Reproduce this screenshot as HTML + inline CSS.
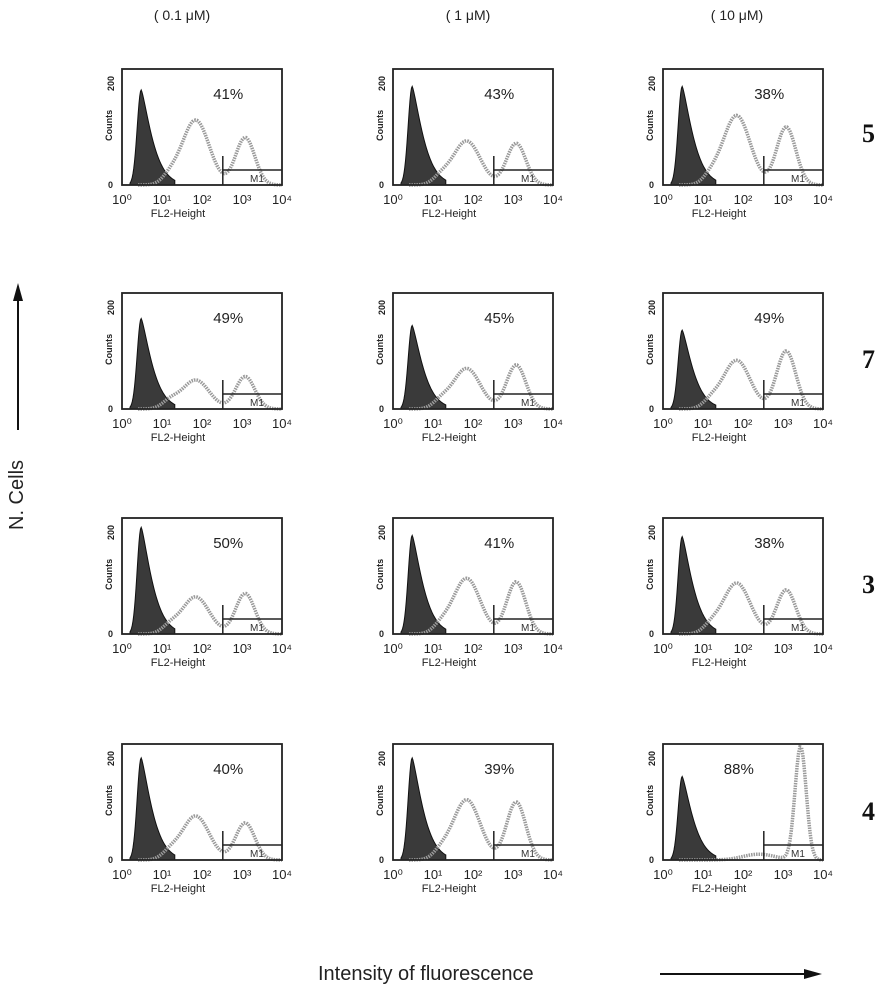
<!DOCTYPE html>
<html><head><meta charset="utf-8"><style>
body{margin:0;background:#fff;width:892px;height:1000px;overflow:hidden;font-family:"Liberation Sans",sans-serif}
svg{position:absolute;left:0;top:0}
</style></head><body>
<svg id="s" width="892" height="1000" xmlns="http://www.w3.org/2000/svg">
<text x="182" y="20" font-size="14" text-anchor="middle" fill="#222">( 0.1 μM)</text>
<text x="468" y="20" font-size="14" text-anchor="middle" fill="#222">( 1 μM)</text>
<text x="737" y="20" font-size="14" text-anchor="middle" fill="#222">( 10 μM)</text>
<g font-family="Liberation Serif" font-weight="bold" font-size="26" fill="#111">
<text x="862" y="142">5</text><text x="862" y="368">7</text><text x="862" y="593">3</text><text x="862" y="820">4</text></g>
<text transform="translate(23,530) rotate(-90)" font-size="20" fill="#222">N. Cells</text>
<line x1="18" y1="430" x2="18" y2="300" stroke="#111" stroke-width="2"/>
<polygon points="18,283 13,301 23,301" fill="#111"/>
<text x="318" y="980" font-size="20" fill="#222">Intensity of fluorescence</text>
<line x1="660" y1="974" x2="805" y2="974" stroke="#111" stroke-width="2"/>
<polygon points="822,974 804,969 804,979" fill="#111"/>
</svg>
<script>
const s=document.getElementById('s');
const cols=[122,393,663],rows=[69,293,518,744],W=160,H=116;
const pct=[["41%","43%","38%"],["49%","45%","49%"],["50%","41%","38%"],["40%","39%","88%"]];
const pk=[[[.82,.56,.41],[.85,.38,.36],[.85,.6,.5]],[[.78,.25,.28],[.72,.35,.38],[.68,.42,.5]],[[.92,.32,.35],[.85,.48,.45],[.84,.44,.38]],[[.88,.38,.32],[.88,.52,.5],[.72,.04,.98]]];
let h='';
function g(x,m,sd){return Math.exp(-((x-m)*(x-m))/(2*sd*sd));}
for(let r=0;r<4;r++)for(let c=0;c<3;c++){
 const X=cols[c],Y=rows[r],p=pk[r][c];
 let d=`M${X+8},${Y+H}`;
 for(let i=0;i<=60;i++){let t=0.05+i/60*0.28;let v=t<0.12?g(t,0.12,0.025):Math.exp(-Math.pow((t-0.12)/0.09,1.3));d+=` L${X+t*W},${Y+H-v*p[0]*H}`;}
 d+=` L${X+0.33*W},${Y+H}Z`;
 h+=`<path d="${d}" fill="#3a3a3a" stroke="#111"/>`;
 let e='';
 for(let i=0;i<=100;i++){let t=0.1+i/100*0.9;let v=p[1]*g(t,0.46,0.085)+p[2]*g(t,0.77,0.06)+0.06*g(t,0.3,0.05);if(p[2]>0.9)v=p[2]*g(t,0.86,0.035)+0.05*g(t,0.6,0.1);e+=(i?' L':'M')+`${X+t*W},${Y+H-v*H}`;}
 h+=`<path d="${e}" fill="none" stroke="#9a9a9a" stroke-width="3.5" stroke-dasharray="1.5,1"/>`;
 h+=`<rect x="${X}" y="${Y}" width="${W}" height="${H}" fill="none" stroke="#222" stroke-width="1.8"/>`;
 const mx=X+0.63*W;
 h+=`<line x1="${mx}" y1="${Y+H-29}" x2="${mx}" y2="${Y+H}" stroke="#222" stroke-width="1.5"/><line x1="${mx}" y1="${Y+H-15}" x2="${X+W}" y2="${Y+H-15}" stroke="#222" stroke-width="1.5"/>`;
 h+=`<text x="${X+W*0.8}" y="${Y+H-3}" font-size="10" fill="#333">M1</text>`;
 h+=`<text x="${X+W*(p[2]>0.9?0.38:0.57)}" y="${Y+30}" font-size="15" fill="#222">${pct[r][c]}</text>`;
 h+=`<text transform="translate(${X-10},${Y+H*0.62}) rotate(-90)" font-size="9" font-weight="bold" fill="#222">Counts</text>`;
 h+=`<text transform="translate(${X-8},${Y+22}) rotate(-90)" font-size="9" font-weight="bold" fill="#222">200</text>`;
 h+=`<text x="${X-14}" y="${Y+H+3}" font-size="9" font-weight="bold" fill="#222">0</text>`;
 const lab=['10\u2070','10\u00b9','10\u00b2','10\u00b3','10\u2074'];
 for(let k=0;k<5;k++)h+=`<text x="${X+k*W/4}" y="${Y+H+19}" font-size="13" text-anchor="middle" fill="#222">${lab[k]}</text>`;
 h+=`<text x="${X+W*0.35}" y="${Y+H+32}" font-size="11" text-anchor="middle" fill="#222">FL2-Height</text>`;
}
s.insertAdjacentHTML('beforeend',h);
</script>
</body></html>
